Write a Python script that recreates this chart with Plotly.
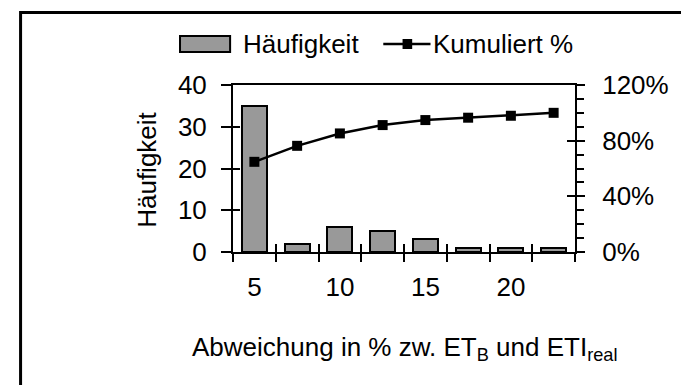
import plotly.graph_objects as go

# Frequency distribution of the deviation classes and its cumulative share
categories = ["5", "7,5", "10", "12,5", "15", "17,5", "20", "22,5"]
haeufigkeit = [35, 2, 6, 5, 3, 1, 1, 1]
kumuliert = [0.648, 0.763, 0.852, 0.912, 0.948, 0.965, 0.979, 1.00]
label_step = 2
left_ticks = [0, 10, 20, 30, 40]
right_ticks = [0, 0.4, 0.8, 1.2]

W, H = 681, 385
L, R, T, B = 233, 93, 85, 133
PW, PH = W - L - R, H - T - B


def px_x(px):
    return (px - L) / PW


def px_y(py):
    return (H - B - py) / PH


FONT = "Arial, 'Liberation Sans', sans-serif"
FS = 26
INK = "black"
GREY = "#999999"

pos = list(range(len(categories)))
bounds = [p - 0.5 for p in pos] + [pos[-1] + 0.5]
xr = [bounds[0], bounds[-1]]

fig = go.Figure()
fig.add_trace(go.Bar(
    x=pos, y=haeufigkeit, width=0.58, name="Häufigkeit",
    marker=dict(color=GREY, line=dict(color=INK, width=2)),
    xaxis="x", yaxis="y", showlegend=False, hoverinfo="skip",
))
fig.add_trace(go.Scatter(
    x=pos, y=kumuliert, mode="lines+markers", name="Kumuliert %",
    line=dict(color=INK, width=2.5),
    marker=dict(symbol="square", size=10, color=INK),
    xaxis="x", yaxis="y2", showlegend=False, hoverinfo="skip",
))
# the same series bound (without any drawing) to the overlay axes that
# carry the inner halves of the crossing ticks and the category labels
fig.add_trace(go.Scatter(
    x=pos, y=haeufigkeit, mode="none", xaxis="x2", yaxis="y3",
    showlegend=False, hoverinfo="skip",
))
fig.add_trace(go.Scatter(
    x=pos, y=kumuliert, mode="none", xaxis="x3", yaxis="y4",
    showlegend=False, hoverinfo="skip",
))

tick_common = dict(tickcolor=INK, tickwidth=2, showgrid=False, zeroline=False)

fig.update_layout(
    width=W, height=H,
    margin=dict(l=L, r=R, t=T, b=B, pad=0),
    paper_bgcolor="white", plot_bgcolor="white",
    font=dict(family=FONT, size=FS, color=INK),
    showlegend=False,
    bargap=0,
    xaxis=dict(range=xr, tickvals=bounds, showticklabels=False,
               ticks="outside", ticklen=8, showline=True, linecolor=INK,
               linewidth=2, mirror=True, **tick_common),
    xaxis2=dict(overlaying="x", anchor="y", side="bottom", range=xr,
                tickvals=bounds, ticks="inside", ticklen=8,
                showticklabels=False, showline=False, **tick_common),
    xaxis3=dict(overlaying="x", anchor="y", side="bottom", range=xr,
                tickvals=pos[::label_step], ticktext=categories[::label_step],
                ticks="", showline=False, ticklabelstandoff=17,
                tickfont=dict(size=FS), showgrid=False, zeroline=False),
    yaxis=dict(range=[left_ticks[0], left_ticks[-1]], tickvals=left_ticks,
               ticks="outside", ticklen=10, showline=True, linecolor=INK,
               linewidth=2, ticklabelstandoff=9, tickfont=dict(size=FS),
               **tick_common),
    yaxis3=dict(overlaying="y", anchor="x", side="left",
                range=[left_ticks[0], left_ticks[-1]], tickvals=left_ticks,
                ticks="inside", ticklen=7, showticklabels=False,
                showline=False, **tick_common),
    yaxis2=dict(overlaying="y", anchor="x", side="right",
                range=[right_ticks[0], right_ticks[-1]], tickvals=right_ticks,
                tickformat=".0%", ticks="outside", ticklen=8, showline=True,
                linecolor=INK, linewidth=2, ticklabelstandoff=12,
                tickfont=dict(size=FS),
                minor=dict(dtick=0.1, ticks="outside", ticklen=7,
                           tickwidth=2, tickcolor=INK),
                **tick_common),
    yaxis4=dict(overlaying="y", anchor="x", side="right",
                range=[right_ticks[0], right_ticks[-1]], tickvals=right_ticks,
                ticks="inside", ticklen=8, showticklabels=False,
                showline=False, **tick_common),
)

# outer chart frame (only top and left edges fall inside the page)
shapes = [
    dict(type="rect", xref="paper", yref="paper",
         x0=px_x(12.5), x1=px_x(720), y0=px_y(12.5), y1=px_y(420),
         line=dict(color=INK, width=3), fillcolor="rgba(0,0,0,0)", layer="below"),
    # legend keys
    dict(type="rect", xref="paper", yref="paper",
         x0=px_x(178), x1=px_x(230), y0=px_y(36), y1=px_y(52),
         line=dict(color=INK, width=2), fillcolor=GREY),
    dict(type="line", xref="paper", yref="paper",
         x0=px_x(389), x1=px_x(438), y0=px_y(44), y1=px_y(44),
         line=dict(color=INK, width=2.5)),
    dict(type="rect", xref="paper", yref="paper",
         x0=px_x(409), x1=px_x(419), y0=px_y(39), y1=px_y(49),
         line=dict(color=INK, width=0), fillcolor=INK),
]

annotations = [
    dict(text="Häufigkeit", xref="paper", yref="paper", x=px_x(241),
         y=px_y(44), xanchor="left", yanchor="middle", showarrow=False,
         font=dict(size=FS)),
    dict(text="Kumuliert %", xref="paper", yref="paper", x=px_x(439),
         y=px_y(44), xanchor="left", yanchor="middle", showarrow=False,
         font=dict(size=FS)),
    dict(text="Häufigkeit", xref="paper", yref="paper", x=px_x(143),
         y=px_y(169.5), xanchor="center", yanchor="middle", textangle=-90,
         showarrow=False, font=dict(size=FS)),
    dict(text="Abweichung in % zw. ET<sub>B</sub> und ETI<sub>real</sub>",
         xref="paper", yref="paper", x=0.5, y=px_y(348), xanchor="center",
         yanchor="middle", showarrow=False, font=dict(size=FS)),
]

fig.update_layout(shapes=shapes, annotations=annotations)

fig.write_html("out.html")
